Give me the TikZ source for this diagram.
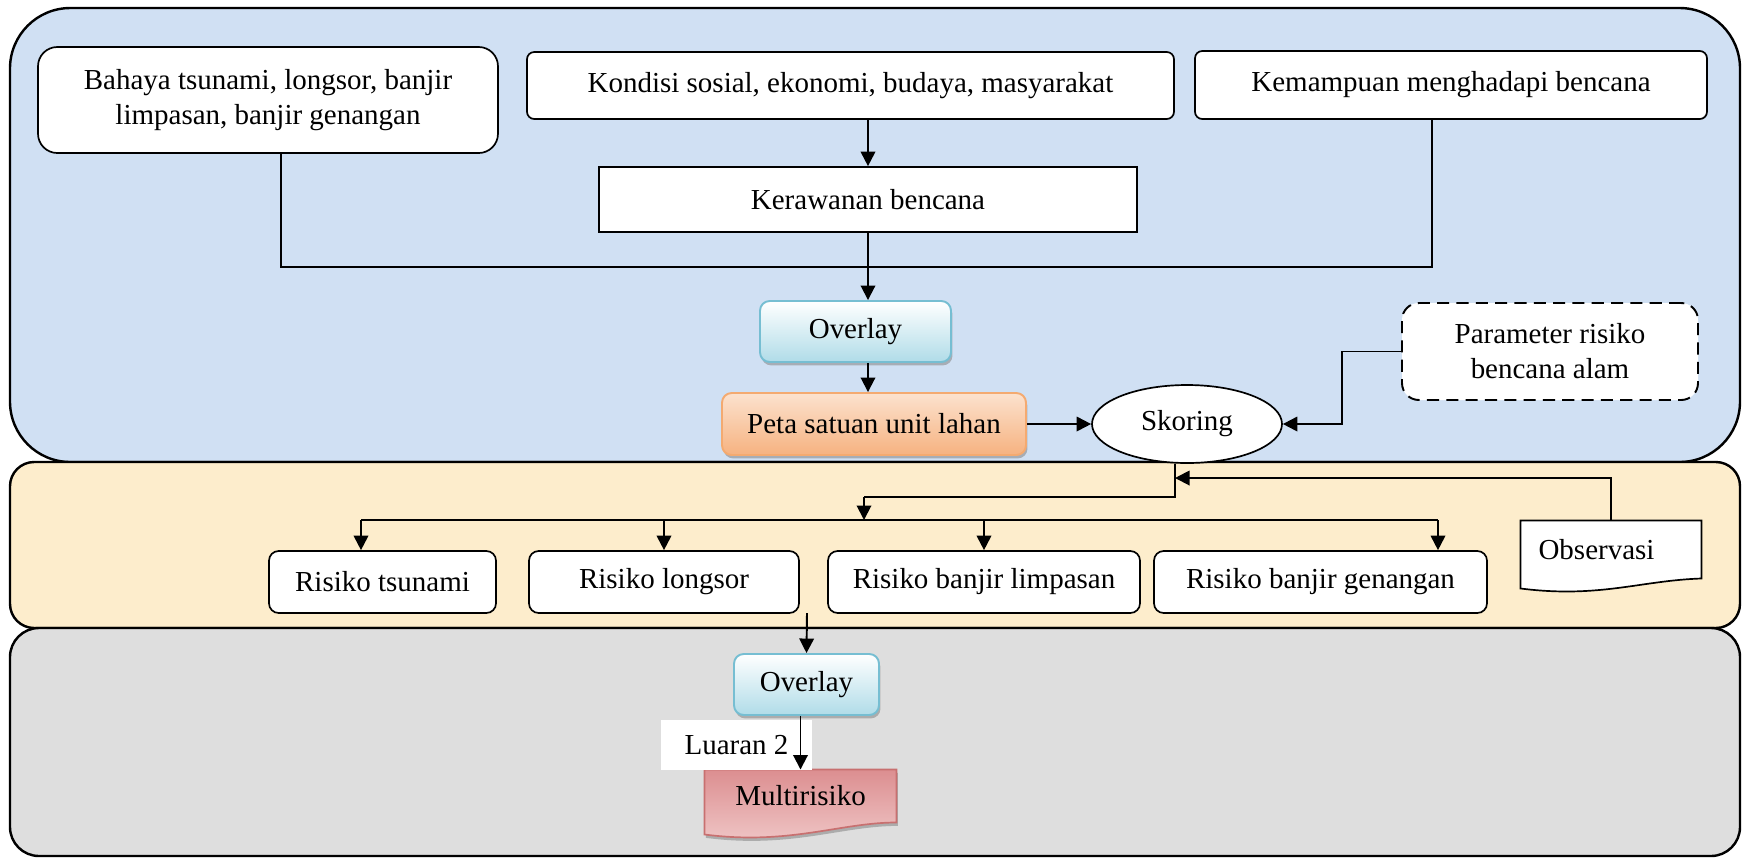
\documentclass[tikz,border=0pt]{standalone}
\usepackage{fontspec}
\setmainfont{Liberation Serif}
\usetikzlibrary{arrows.meta,shapes.geometric,shadows,backgrounds}

\newcommand\upx{0.414pt}
\definecolor{topbg}{RGB}{208,224,243}
\definecolor{midbg}{RGB}{253,237,204}
\definecolor{botbg}{RGB}{222,222,222}
\definecolor{ovlline}{RGB}{118,190,210}
\definecolor{ovlfill}{RGB}{176,220,232}
\definecolor{petaline}{RGB}{244,170,112}
\definecolor{petatop}{RGB}{252,226,206}
\definecolor{petabot}{RGB}{246,178,128}
\definecolor{multiline}{RGB}{200,112,112}
\definecolor{multitop}{RGB}{220,142,144}
\definecolor{multibot}{RGB}{240,200,200}

\tikzset{
  arr/.style={-{Triangle[length=6pt,width=6pt]}, line width=0.8pt},
  conn/.style={line width=0.8pt},
  whitebox/.style={draw, fill=white, rounded corners=4pt, line width=0.7pt, align=center, inner sep=0pt},
  sharpbox/.style={draw, fill=white, line width=0.7pt, inner sep=0pt},
  riskbox/.style={whitebox, rounded corners=4pt, minimum height=62*\upx},
  ovlbox/.style={draw=ovlline, line width=0.8pt, rounded corners=4pt, top color=white, bottom color=ovlfill,
    drop shadow={shadow xshift=0.6pt, shadow yshift=-1.4pt, fill=black!45, opacity=0.6},
    inner sep=0pt, minimum height=61*\upx},
  petabox/.style={draw=petaline, line width=0.8pt, rounded corners=4pt, top color=petatop, bottom color=petabot,
    drop shadow={shadow xshift=0.6pt, shadow yshift=-1.4pt, fill=black!45, opacity=0.6}, inner sep=0pt},
  parambox/.style={draw, dashed, dash pattern=on 5pt off 3pt, fill=white, rounded corners=7pt, line width=0.8pt,
    align=center, inner sep=0pt},
  docshape/.style={draw, line width=0.7pt, fill=white},
  multishape/.style={draw=multiline, line width=0.7pt, top color=multitop, bottom color=multibot,
    drop shadow={shadow xshift=0.6pt, shadow yshift=-1.4pt, fill=black!45, opacity=0.6}}
}

\begin{document}
\begin{tikzpicture}[x=\upx, y=-\upx, every node/.style={font=\fontsize{12}{14.5}\selectfont}]
\useasboundingbox (0,0) rectangle (1742,858);

\begin{scope}[on background layer]
  \draw[line width=1pt, fill=topbg, rounded corners=25pt] (10,8) rectangle (1740,462);
  \draw[line width=1pt, fill=midbg, rounded corners=10pt] (10,462) rectangle (1740,628);
  \draw[line width=1pt, fill=botbg, rounded corners=12pt] (10,628) rectangle (1740,856);
\end{scope}

\node[whitebox, rounded corners=8pt, minimum width=460*\upx, minimum height=106*\upx] (bahaya) at (268,100) {Bahaya tsunami, longsor, banjir\\ limpasan, banjir genangan};
\node[whitebox, rounded corners=3pt, minimum width=647*\upx, minimum height=67*\upx] (kondisi) at (850.5,85.5) {Kondisi sosial, ekonomi, budaya, masyarakat};
\node[whitebox, rounded corners=3pt, minimum width=512*\upx, minimum height=68*\upx] (mampu) at (1451,85) {Kemampuan menghadapi bencana};
\node[sharpbox, minimum width=538*\upx, minimum height=65*\upx] (rawan) at (868,199.5) {Kerawanan bencana};
\node[ovlbox, minimum width=191*\upx] (overlayA) at (855.5,331.5) {Overlay};
\node[petabox, minimum width=304*\upx, minimum height=62*\upx] (peta) at (874,424) {Peta satuan unit lahan};
\node[draw, ellipse, fill=white, line width=0.7pt, minimum width=190*\upx, minimum height=78*\upx, inner sep=0pt] (skor) at (1187,424) {Skoring};
\node[parambox, minimum width=296*\upx, minimum height=97*\upx] (param) at (1550,351.5) {Parameter risiko\\ bencana alam};

\node[riskbox, minimum width=227*\upx] (tsunami) at (382.5,582) {Risiko tsunami};
\node[riskbox, minimum width=270*\upx] (longsor) at (664,582) {Risiko longsor};
\node[riskbox, minimum width=312*\upx] (limpasan) at (984,582) {Risiko banjir limpasan};
\node[riskbox, minimum width=333*\upx] (genangan) at (1320.5,582) {Risiko banjir genangan};
\node[minimum width=180*\upx, minimum height=57*\upx, inner sep=0pt] (obs) at (1611,549.5) {\hspace*{-12pt}Observasi};

\node[ovlbox, minimum width=145*\upx] (overlayB) at (806.5,684.5) {Overlay};
\node[fill=white, minimum width=151*\upx, minimum height=50*\upx, inner sep=0pt] (luaran) at (736.5,745) {Luaran 2};
\node[minimum width=191*\upx, minimum height=52*\upx, inner sep=0pt] (multi) at (800.5,796) {Multirisiko};

\begin{scope}[on background layer]
  \draw[docshape] (obs.north west) -- (obs.north east) -- (obs.south east)
    .. controls ([shift={(-61,2)}]obs.south east) and ([shift={(79,20)}]obs.south west) .. ([shift={(0,10)}]obs.south west) -- cycle;
  \draw[multishape] (multi.north west) -- (multi.north east) -- (multi.south east)
    .. controls ([shift={(-56,0)}]multi.south east) and ([shift={(85,23)}]multi.south west) .. ([shift={(0,12)}]multi.south west) -- cycle;
\end{scope}

\coordinate (joint) at (868,267);
\coordinate (skb) at (1175,497);
\coordinate (bagi) at (864,497);
\coordinate (distL) at (361,520);
\coordinate (distR) at (1438,520);
\coordinate (obsin) at (1175,478);
\coordinate (src) at (807,613);

\draw[conn] ([xshift=13*\upx]bahaya.south) |- (joint) -| ([xshift=-19*\upx]mampu.south);
\draw[arr] (kondisi.south -| rawan.north) -- (rawan.north);
\draw[arr] (rawan.south) -- (rawan.south |- overlayA.north);
\draw[arr] (overlayA.south -| rawan.south) -- (peta.north -| rawan.south);
\draw[arr] (peta.east) -- (skor.west);
\draw[arr] (param.west) -- ++(-59,0) |- (skor.east);

\draw[conn] (skor.south -| skb) -- (skb) -- (bagi);
\draw[arr] (bagi) -- (bagi |- distL);
\draw[arr] (obs.north) |- (obsin);
\draw[conn] (distL) -- (distR);
\draw[arr] (distL) -- (distL |- tsunami.north);
\draw[arr] (longsor.north |- distL) -- (longsor.north);
\draw[arr] (limpasan.north |- distL) -- (limpasan.north);
\draw[arr] (distR) -- (distR |- genangan.north);

\draw[arr] (src) -- (overlayB.north);
\draw[arr] (overlayB.south -| multi.north) -- (multi.north);
\end{tikzpicture}
\end{document}
